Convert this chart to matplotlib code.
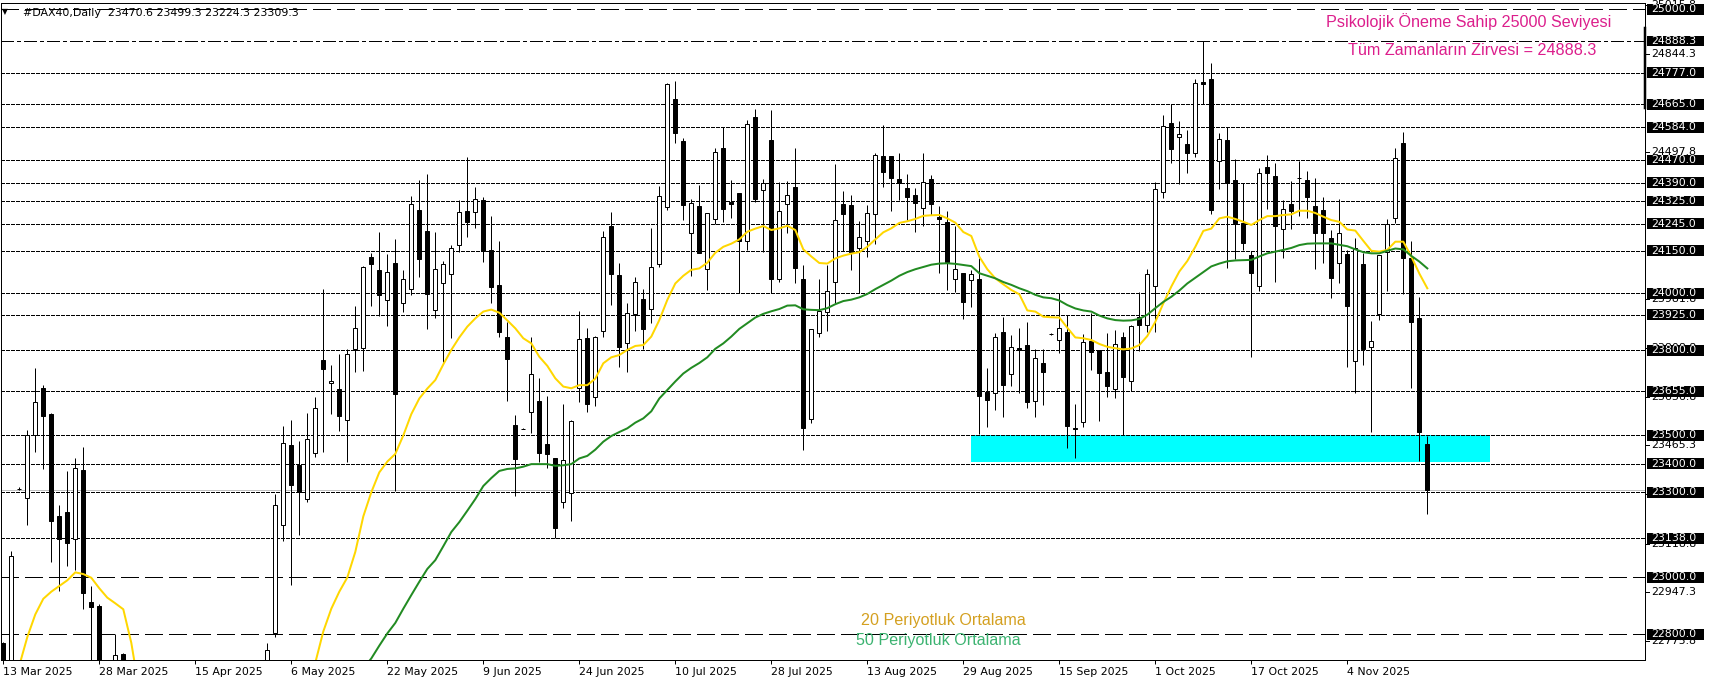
import matplotlib
matplotlib.use('Agg')
import matplotlib.pyplot as plt
import matplotlib.transforms as mtrans
from matplotlib.patches import Rectangle
import numpy as np

plt.rcParams['lines.scale_dashes'] = False

# ---------------- data ----------------
opens = [22768, 22620, 23310, 23279, 23500, 23666, 23575, 23215, 23229, 23134,
         23377, 22913, 22900, 22450, 22400, 22731, 22100, 21700, 19700, 20400,
         20200, 20900, 20500, 20900, 21100, 21300, 21400, 21200, 21700, 22000,
         22100, 22350, 22400, 22550, 22806, 23183, 23465, 23395, 23275, 23437,
         23764, 23683, 23662, 23554, 23803, 23807, 24127, 24081, 23976, 24106,
         23965, 24014, 24292, 24218, 23940, 24035, 24067, 24169, 24289, 24288,
         24329, 24153, 24030, 23848, 23537, 23523, 23581, 23621, 23470, 23422,
         23264, 23296, 23668, 23844, 23636, 23869, 24237, 24065, 23826, 23927,
         23980, 23946, 24102, 24303, 24684, 24536, 24214, 24308, 24085, 24261,
         24511, 24320, 24352, 24183, 24620, 24364, 24540, 24049, 24313, 24373,
         24050, 23557, 23859, 23933, 24039, 24313, 24310, 24159, 24186, 24278,
         24484, 24484, 24403, 24370, 24345, 24299, 24401, 24270, 24250, 24049,
         24071, 24047, 24049, 23654, 23648, 23865, 23715, 23807, 23818, 23621,
         23754, 23857, 23836, 23863, 23525, 23548, 23832, 23801, 23722, 23662,
         23845, 23692, 23916, 23889, 24027, 24356, 24599, 24549, 24525, 24493,
         24743, 24753, 24466, 24540, 24399, 24247, 24135, 24027, 24444, 24413,
         24225, 24313, 24407, 24399, 24308, 24293, 24194, 24106, 24137, 23763,
         24103, 23810, 23926, 24147, 24264, 24528, 24123, 23912, 23470.6]
highs = [22772, 23093, 23318, 23519, 23736, 23679, 23580, 23255, 23375, 23419,
         23460, 22970, 22905, 22600, 22800, 22733, 22150, 21800, 20300, 20800,
         20700, 21100, 20900, 21300, 21450, 21500, 21500, 21500, 22250, 22150,
         22400, 22450, 22600, 22768, 23294, 23533, 23554, 23480, 23578, 23634,
         24014, 23748, 23787, 23803, 23956, 24096, 24141, 24215, 24137, 24190,
         24082, 24343, 24400, 24420, 24215, 24114, 24170, 24330, 24480, 24376,
         24340, 24272, 24186, 23898, 23572, 23525, 23848, 23701, 23639, 23422,
         23611, 23554, 23939, 23879, 23850, 24220, 24285, 24108, 23965, 24059,
         24017, 24230, 24378, 24739, 24748, 24546, 24332, 24381, 24282, 24511,
         24587, 24400, 24352, 24610, 24648, 24401, 24645, 24393, 24396, 24511,
         24100, 23873, 24049, 24100, 24455, 24361, 24346, 24255, 24310, 24495,
         24593, 24484, 24495, 24419, 24370, 24495, 24417, 24308, 24290, 24237,
         24071, 24082, 24126, 23736, 23859, 23916, 23853, 23877, 23898, 23803,
         23803, 23859, 24000, 23924, 23611, 23857, 23930, 23801, 23859, 23871,
         23865, 23889, 24006, 24085, 24393, 24628, 24667, 24607, 24575, 24753,
         24888.3, 24810, 24563, 24584, 24472, 24390, 24150, 24440, 24487, 24458,
         24329, 24396, 24467, 24431, 24405, 24338, 24223, 24331, 24153, 24194,
         24141, 23903, 24135, 24262, 24511, 24567, 24184, 23986, 23499.3]
lows = [22550, 22580, 23308, 23186, 23443, 23383, 23056, 22954, 23040, 23026,
        22890, 22600, 22450, 22150, 22350, 22300, 21600, 20600, 18600, 20100,
        19400, 20500, 20000, 20800, 21000, 21000, 21200, 21000, 21600, 21850,
        22000, 22200, 22300, 22500, 22789, 23130, 22974, 23150, 23267, 23425,
        23443, 23575, 23517, 23408, 23725, 23728, 23956, 23920, 23885, 23304,
        23936, 23993, 24059, 23873, 23912, 23760, 23842, 24147, 24200, 24229,
        24112, 23967, 23845, 23622, 23288, 23521, 23510, 23408, 23387, 23138,
        23246, 23200, 23616, 23584, 23605, 23848, 23959, 23742, 23724, 23869,
        23803, 23895, 24094, 24293, 24530, 24258, 24062, 24141, 24012, 24244,
        24252, 24264, 24002, 24153, 24323, 24147, 24002, 24041, 24211, 24038,
        23449, 23543, 23848, 23869, 23965, 24150, 24082, 24000, 24129, 24173,
        24376, 24291, 24329, 24258, 24217, 24237, 24276, 24073, 24012, 24006,
        23909, 23953, 23505, 23531, 23590, 23566, 23674, 23650, 23598, 23566,
        23607, 23855, 23789, 23455, 23419, 23528, 23730, 23552, 23636, 23631,
        23501, 23656, 23797, 23865, 23865, 24335, 24460, 24385, 24425, 24481,
        24667, 24279, 24366, 24088, 24121, 24153, 23777, 24008, 24297, 24041,
        24126, 24227, 24272, 24264, 24086, 24108, 23985, 24038, 23742, 23650,
        23748, 23513, 23906, 24008, 24247, 23997, 23666, 23411, 23224.3]
closes = [22600, 23074, 23310, 23503, 23616, 23570, 23200, 23134, 23123, 23384,
          22947, 22897, 22550, 22300, 22726, 22600, 21850, 20750, 19900, 20380,
          19800, 20650, 20450, 21050, 21350, 21400, 21300, 21400, 22050, 22050,
          22350, 22380, 22520, 22744, 23255, 23472, 23327, 23301, 23486, 23595,
          23733, 23690, 23570, 23785, 23877, 24092, 24105, 23993, 24074, 23645,
          24049, 24313, 24120, 23997, 24085, 24102, 24159, 24285, 24253, 24334,
          24150, 24024, 23865, 23770, 23418, 23523, 23716, 23439, 23433, 23175,
          23414, 23551, 23839, 23611, 23845, 24197, 24069, 23812, 23930, 24040,
          23876, 24092, 24343, 24736, 24566, 24312, 24317, 24143, 24282, 24496,
          24296, 24316, 24185, 24595, 24333, 24387, 24052, 24289, 24345, 24091,
          23527, 23873, 23938, 24010, 24257, 24278, 24147, 24197, 24282, 24486,
          24428, 24407, 24390, 24340, 24317, 24393, 24313, 24261, 24109, 24085,
          23968, 24067, 23640, 23625, 23848, 23677, 23812, 23801, 23616, 23774,
          23722, 23857, 23879, 23534, 23521, 23830, 23795, 23719, 23675, 23821,
          23704, 23885, 23889, 24067, 24366, 24590, 24507, 24562, 24495, 24739,
          24736, 24294, 24542, 24387, 24249, 24176, 24073, 24423, 24425, 24238,
          24296, 24291, 24407, 24340, 24214, 24214, 24055, 24211, 23957, 24159,
          23804, 23832, 24135, 24243, 24475, 24126, 23898, 23513, 23309.3]

ma20 = [22560, 22620, 22690, 22790, 22870, 22925, 22950, 22970, 22990, 23018,
        23012, 22999, 22962, 22929, 22909, 22888, 22770, 22600, 22400, 22250,
        22100, 21950, 21850, 21750, 21650, 21600, 21550, 21550, 21600, 21650,
        21700, 21800, 21900, 22050, 22200, 22350, 22480, 22580, 22650, 22700,
        22810, 22890, 22950, 23000, 23090, 23215, 23300, 23370, 23408, 23435,
        23500, 23575, 23630, 23665, 23695, 23750, 23801, 23845, 23883, 23912,
        23936, 23943, 23932, 23905, 23877, 23842, 23824, 23777, 23745, 23701,
        23672, 23666, 23677, 23677, 23700, 23754, 23775, 23783, 23801, 23815,
        23818, 23848, 23906, 23977, 24035, 24062, 24083, 24088, 24108, 24143,
        24164, 24175, 24190, 24217, 24228, 24237, 24223, 24229, 24238, 24223,
        24155, 24130, 24107, 24105, 24123, 24133, 24140, 24145, 24164, 24190,
        24215, 24229, 24248, 24254, 24262, 24273, 24275, 24276, 24264, 24249,
        24216, 24202, 24129, 24085, 24053, 24032, 24012, 23997, 23940, 23936,
        23918, 23916, 23915, 23879, 23845, 23842, 23836, 23822, 23812, 23807,
        23803, 23806, 23818, 23850, 23900, 23965, 24024, 24077, 24114, 24164,
        24220, 24228, 24264, 24270, 24262, 24252, 24241, 24258, 24272, 24272,
        24276, 24278, 24291, 24291, 24283, 24270, 24258, 24252, 24225, 24221,
        24185, 24150, 24147, 24153, 24182, 24182, 24130, 24070, 24018]

ma50_start = 40
ma50 = [22500, 22530, 22560, 22600, 22640, 22680, 22715, 22760, 22803, 22840,
        22890, 22938, 22985, 23030, 23061, 23110, 23160, 23195, 23235, 23276,
        23322, 23350, 23375, 23382, 23384, 23390, 23399, 23399, 23399, 23393,
        23395, 23399, 23419, 23428, 23450, 23478, 23498, 23512, 23525, 23545,
        23560, 23585, 23630, 23660, 23690, 23718, 23738, 23755, 23775, 23805,
        23824, 23848, 23875, 23895, 23915, 23928, 23937, 23945, 23957, 23958,
        23944, 23942, 23941, 23948, 23962, 23973, 23978, 23986, 23998, 24015,
        24030, 24045, 24062, 24075, 24085, 24093, 24101, 24105, 24106, 24104,
        24100, 24096, 24071, 24062, 24053, 24040, 24030, 24018, 24008, 23995,
        23986, 23983, 23975, 23959, 23947, 23940, 23936, 23922, 23912, 23906,
        23904, 23905, 23910, 23925, 23948, 23970, 23988, 24010, 24035, 24055,
        24075, 24095, 24105, 24113, 24116, 24117, 24118, 24130, 24141, 24147,
        24153, 24160, 24170, 24175, 24176, 24176, 24176, 24171, 24166, 24155,
        24145, 24141, 24141, 24150, 24158, 24155, 24132, 24112, 24088]

date_tick_bars = [0, 12, 24, 36, 48, 60, 72, 84, 96, 108, 120, 132, 144, 156, 168]
date_labels = ['13 Mar 2025', '28 Mar 2025', '15 Apr 2025', '6 May 2025', '22 May 2025',
               '9 Jun 2025', '24 Jun 2025', '10 Jul 2025', '28 Jul 2025', '13 Aug 2025',
               '29 Aug 2025', '15 Sep 2025', '1 Oct 2025', '17 Oct 2025', '4 Nov 2025']

dot_levels = [24777, 24665, 24584, 24470, 24390, 24325, 24245, 24150, 24000,
              23925, 23800, 23655, 23500, 23400, 23300, 23138]
dash_levels = [25000, 23000, 22800]
dashdot_levels = [24888.3]
scale_prices = [25015.8, 24844.3, 24497.8, 23981.8, 23808.8, 23636.8,
                23465.3, 23292.3, 23118.8, 22947.3, 22775.8]
bid_price = 23309.3
zone_bars = (121, 185.8)
zone_prices = (23408, 23503)
header = '#DAX40,Daily  23470.6 23499.3 23224.3 23309.3'

# ---------------- figure ----------------
W, H = 1709, 684
PX = 0.72
fig = plt.figure(figsize=(W / 100, H / 100), dpi=100)
ax = fig.add_axes([0.5 / W, 24 / H, 1644.5 / W, 657 / H])
ax.set_xlim(-0.35, 205.21)
ax.set_ylim(22709.5, 25022.2)
for s in ax.spines.values():
    s.set_linewidth(PX)
    s.set_color('black')

o = np.array(opens, float); h = np.array(highs, float)
l = np.array(lows, float); c = np.array(closes, float)
x = np.arange(len(o))

# zone
ax.add_patch(Rectangle((zone_bars[0], zone_prices[0]), zone_bars[1] - zone_bars[0],
                       zone_prices[1] - zone_prices[0], facecolor='#00FFFF',
                       edgecolor='none', zorder=0.5))

# level lines
for lv in dot_levels:
    ax.axhline(lv, color='black', lw=PX, dashes=(3 * PX, 2 * PX), zorder=1, antialiased=False)
for lv in dash_levels:
    ax.axhline(lv, color='black', lw=PX, dashes=(18 * PX, 6 * PX), zorder=1, antialiased=False)
for lv in dashdot_levels:
    ax.axhline(lv, color='black', lw=PX, dashes=(12 * PX, 4 * PX, 3 * PX, 4 * PX), zorder=1,
               antialiased=False)
ax.axhline(bid_price, color='#C0C0C0', lw=PX, zorder=1.2, antialiased=False)

# candles
ax.vlines(x, l, h, color='black', lw=PX, zorder=3)
up = c >= o
bot = np.minimum(o, c)
hgt = np.abs(c - o)
ax.bar(x[up], hgt[up], bottom=bot[up], width=0.5, facecolor='white',
       edgecolor='black', linewidth=PX, zorder=4)
ax.bar(x[~up], hgt[~up], bottom=bot[~up], width=0.5, facecolor='black',
       edgecolor='black', linewidth=PX, zorder=4)

# moving averages
ax.plot(np.arange(len(ma20)), ma20, color='#FFD700', lw=2 * PX, zorder=5)
ax.plot(np.arange(ma50_start, ma50_start + len(ma50)), ma50, color='#228B22', lw=2 * PX, zorder=5)

# x axis
ax.set_yticks([])
ax.set_xticks(date_tick_bars)
ax.set_xticklabels(date_labels, fontsize=7.9, family='DejaVu Sans', ha='left')
ax.tick_params(axis='x', direction='out', length=4 * PX, width=PX, pad=2.5, colors='black')

# right price scale
blend = mtrans.blended_transform_factory(fig.transFigure, ax.transData)
for p in scale_prices:
    ax.plot([1645 / W, 1649 / W], [p, p], transform=blend, color='black', lw=PX, clip_on=False, zorder=6)
    ax.text(1651 / W, p, f'{p:.1f}', transform=blend, fontsize=7.9, family='DejaVu Sans',
            va='center', ha='left', color='black', clip_on=False, zorder=6)
box_h = 10.7 / 0.28409
for lv in dot_levels + dash_levels + dashdot_levels:
    ax.add_patch(Rectangle((1646.5 / W, lv - box_h / 2), 57 / W, box_h, transform=blend,
                           facecolor='black', edgecolor='none', clip_on=False, zorder=9))
    ax.text(1651 / W, lv, f'{lv:.1f}', transform=blend, fontsize=7.9, family='DejaVu Sans',
            va='center', ha='left', color='white', clip_on=False, zorder=10)

# thick marker on right edge
ax.plot([205.21, 205.21], [24934, 24652], color='black', lw=2.5 * PX, clip_on=False, zorder=7)


def fx(px):
    return px / W


def fy(py):
    return 1 - py / H


fig.text(fx(2), fy(11.5), '\u25BC', fontsize=5.5, family='DejaVu Sans', va='center', ha='left')
fig.text(fx(23), fy(15.8), header, fontsize=7.9, family='DejaVu Sans', va='baseline', ha='left')

fig.text(fx(1326), fy(27.3), 'Psikolojik Öneme Sahip 25000 Seviyesi', fontsize=11.6,
         family='Liberation Sans', color='#DC1E8C', va='baseline', ha='left')
fig.text(fx(1348), fy(55), 'Tüm Zamanların Zirvesi = 24888.3', fontsize=11.6,
         family='Liberation Sans', color='#DC1E8C', va='baseline', ha='left')
fig.text(fx(861), fy(620), '20 Periyotluk Ortalama', fontsize=11.6,
         family='Liberation Sans', color='#D4A020', va='center', ha='left')
fig.text(fx(856), fy(641), '50 Periyotluk Ortalama', fontsize=11.6,
         family='Liberation Sans', color='#3CB371', va='center', ha='left')

fig.savefig('out.png', dpi=100, facecolor='white')
